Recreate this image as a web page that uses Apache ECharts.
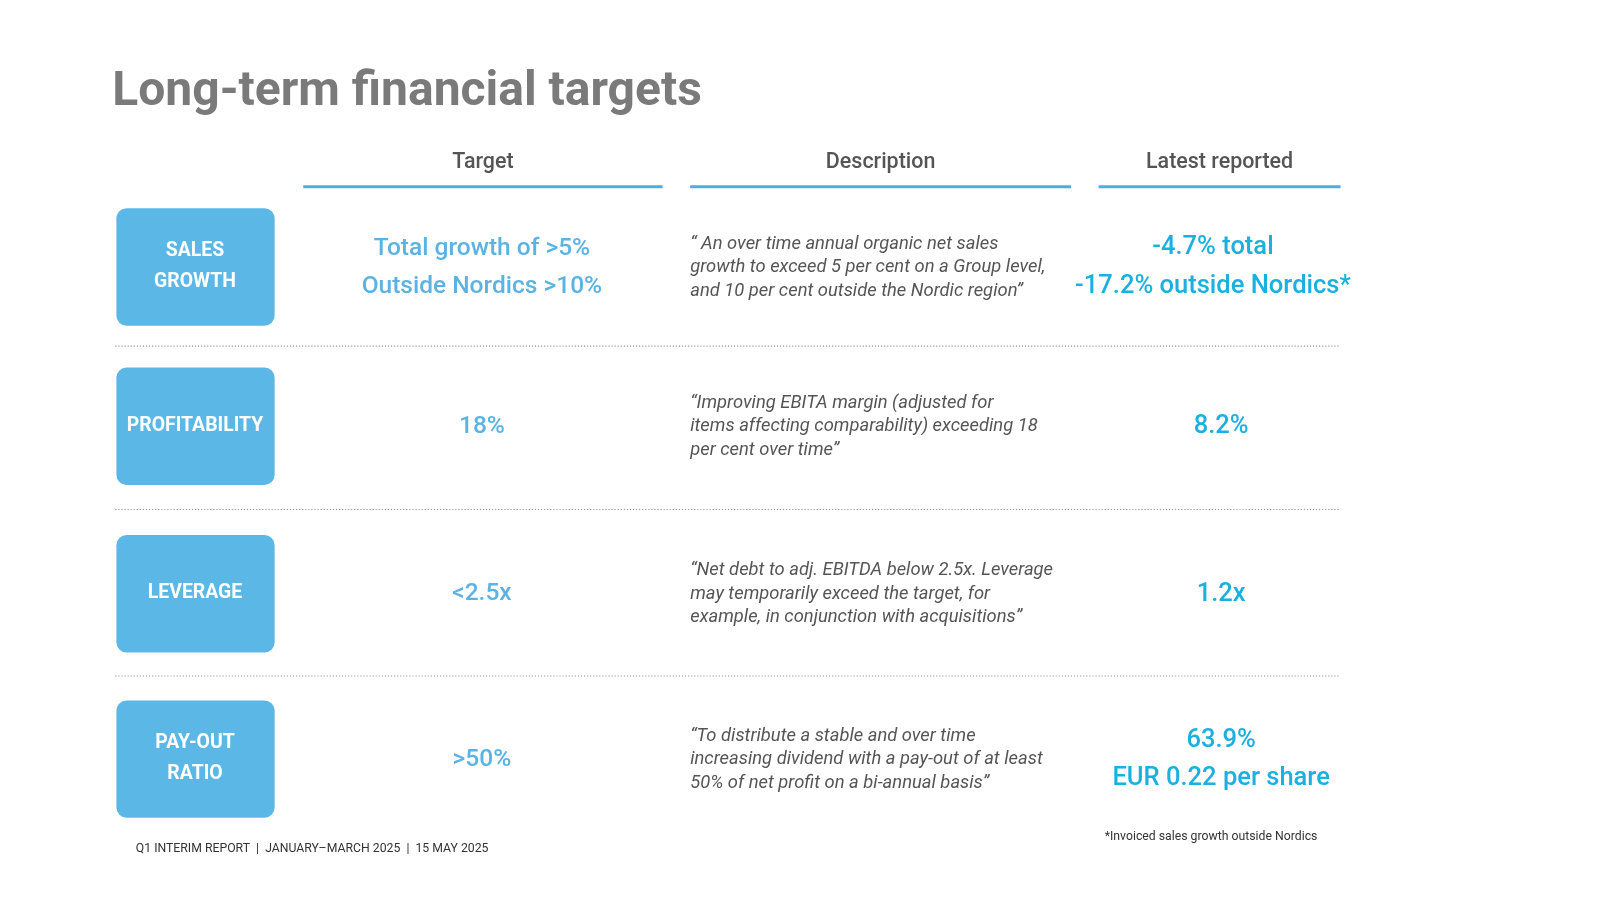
<html><head><meta charset="utf-8">
<script src="https://cdn.jsdelivr.net/npm/echarts@6/dist/echarts.min.js"></script>
<style>body{margin:0;background:#fff}#c{width:1600px;height:900px}</style></head>
<body><div id="c"></div>
<script>
const headers = ['Target', 'Description', 'Latest reported'];
const labels = ['SALES\nGROWTH', 'PROFITABILITY', 'LEVERAGE', 'PAY-OUT\nRATIO'];
const targets = ['Total growth of >5%\nOutside Nordics >10%', '18%', '<2.5x', '>50%'];
const descriptions = [
  '\u201C An over time annual organic net sales\ngrowth to exceed 5 per cent on a Group level,\nand 10 per cent outside the Nordic region\u201D',
  '\u201CImproving EBITA margin (adjusted for\nitems affecting comparability) exceeding 18\nper cent over time\u201D',
  '\u201CNet debt to adj. EBITDA below 2.5x. Leverage\nmay temporarily exceed the target, for\nexample, in conjunction with acquisitions\u201D',
  '\u201CTo distribute a stable and over time\nincreasing dividend with a pay-out of at least\n50% of net profit on a bi-annual basis\u201D'
];
const latest = ['-4.7% total\n-17.2% outside Nordics*', '8.2%', '1.2x', '63.9%\nEUR 0.22 per share'];
const rowTops = [204, 360, 524, 686];
const separators = [339, 499, 662];

const font = 'Roboto, "DejaVu Sans", sans-serif';
const blue = '#5bb8e6';
const g = [];
g.push({ type: 'text', left: 110, top: 68, style: { text: 'Long-term financial targets', font: 'bold 47px ' + font, fill: '#7a7a7a' } });
const cols = [[297, 649], [676, 1049], [1076, 1313]];
headers.forEach((h, i) => {
  const cx = (cols[i][0] + cols[i][1]) / 2;
  g.push({ type: 'text', x: cx, y: 159, style: { text: h, font: '500 21px ' + font, fill: '#555', align: 'center', verticalAlign: 'middle' } });
  g.push({ type: 'line', shape: { x1: cols[i][0], y1: 183, x2: cols[i][1], y2: 183 }, style: { stroke: '#4aaee0', lineWidth: 3 } });
});
separators.forEach(y => g.push({ type: 'line', shape: { x1: 113, y1: y, x2: 1313, y2: y }, style: { stroke: '#888', lineWidth: 1, lineDash: [1, 2] } }));
labels.forEach((l, i) => {
  const cy = rowTops[i] + 57;
  g.push({ type: 'rect', shape: { x: 114, y: rowTops[i], width: 155, height: 115, r: 10 }, style: { fill: blue } });
  g.push({ type: 'text', x: 191, y: cy, style: { text: l, font: 'bold 19px ' + font, fill: '#fff', align: 'center', verticalAlign: 'middle', lineHeight: 31 } });
  g.push({ type: 'text', x: 472, y: cy + 1, style: { text: targets[i], font: '500 24px ' + font, fill: '#5bb3e3', align: 'center', verticalAlign: 'middle', lineHeight: 37 } });
  g.push({ type: 'text', x: 676, y: cy + 1, style: { text: descriptions[i], font: 'italic 18px ' + font, fill: '#555', align: 'left', verticalAlign: 'middle', lineHeight: 23 } });
  g.push({ type: 'text', x: 1190 + (i === 0 ? -2 : 6), y: cy + 1, style: { text: latest[i], font: '500 25px ' + font, fill: '#1ab0e0', align: 'center', verticalAlign: 'middle', lineHeight: 38 } });
});
g.push({ type: 'text', left: 133, top: 825, style: { text: 'Q1 INTERIM REPORT  |  JANUARY\u2013MARCH 2025  |  15 MAY 2025', font: '12px ' + font, fill: '#333' } });
g.push({ type: 'text', left: 1082, top: 814, style: { text: '*Invoiced sales growth outside Nordics', font: '12px ' + font, fill: '#333' } });

const chart = echarts.init(document.getElementById('c'));
chart.setOption({ backgroundColor: '#fff', graphic: [{ type: 'group', scaleX: 1.021, scaleY: 1.021, children: g }] });
</script></body></html>
